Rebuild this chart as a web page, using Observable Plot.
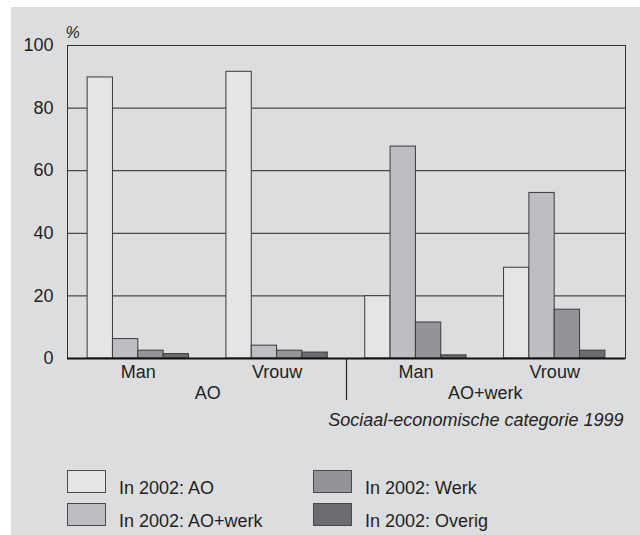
<!DOCTYPE html>
<html>
<head>
<meta charset="utf-8">
<script src="https://cdn.jsdelivr.net/npm/d3@7"></script>
<script src="https://cdn.jsdelivr.net/npm/@observablehq/plot@0.6"></script>
<style>
  body { margin: 0; background: #ffffff; font-family: "Liberation Sans", Arial, Helvetica, sans-serif; color: #231f20; }
  #bg { position: absolute; left: 11px; top: 7px; width: 629px; height: 528px; background: #dcdddf; }
  #chart { position: absolute; left: 0; top: 0; }
  #legend { position: absolute; left: 67px; top: 470px; display: grid; grid-template-columns: 246px auto; grid-template-rows: 33px 33px; grid-auto-flow: column; }
  .item { display: flex; align-items: flex-start; }
  .sw { width: 39px; height: 23px; box-sizing: border-box; border: 1px solid #4a4a4a; }
  .lab { margin-left: 13px; margin-top: 9px; font-size: 18px; line-height: 18px; white-space: nowrap; }
</style>
</head>
<body>
<div id="bg"></div>
<div id="chart"></div>
<div id="legend"></div>
<script>
// Groups (socio-economic category 1999 × sex)
const groups = ["AO|Man", "AO|Vrouw", "AO+werk|Man", "AO+werk|Vrouw"];
const sexes = ["Man", "Vrouw", "Man", "Vrouw"];
const categoryLabels = ["AO", "AO+werk"];
const series = ["In 2002: AO", "In 2002: AO+werk", "In 2002: Werk", "In 2002: Overig"];
// Values per series, one per group (%)
const valuesAO = [89.8, 91.6, 19.9, 29.0];
const valuesAOwerk = [6.2, 4.1, 67.7, 52.9];
const valuesWerk = [2.5, 2.5, 11.5, 15.6];
const valuesOverig = [1.4, 1.9, 1.0, 2.5];
const yTicks = [0, 20, 40, 60, 80, 100];
const colors = ["#e4e5e7", "#bdbec1", "#939497", "#6b6c6f"];
const caption = "Sociaal-economische categorie 1999";

const seriesValues = [valuesAO, valuesAOwerk, valuesWerk, valuesOverig];

const width = 640, height = 440;
const marginLeft = 67, marginRight = 15, marginTop = 45, marginBottom = 82;
const paddingInner = 0.27, paddingOuter = 0.145;
const plotW = width - marginLeft - marginRight;
const step = plotW / (groups.length - paddingInner + 2 * paddingOuter);
const bandwidth = step * (1 - paddingInner);
const seg = bandwidth / series.length;

const barMarks = seriesValues.map((vals, i) =>
  Plot.barY(groups.map((g, j) => ({group: g, value: vals[j]})), {
    x: "group", y: "value",
    fill: colors[i], stroke: "#3a3a3a", strokeWidth: 1,
    insetLeft: i * seg, insetRight: (series.length - 1 - i) * seg
  })
);

const catData = [
  {group: groups[1], label: categoryLabels[0]},
  {group: groups[3], label: categoryLabels[1]}
];

const chart = Plot.plot({
  width, height, marginLeft, marginRight, marginTop, marginBottom,
  style: {fontFamily: '"Liberation Sans", Arial, Helvetica, sans-serif', color: "#231f20", background: "transparent", overflow: "visible"},
  x: {domain: groups, type: "band", paddingInner, paddingOuter, round: false, axis: null},
  y: {domain: [0, 100], axis: null},
  marks: [
    Plot.ruleY(yTicks.filter(t => t > 0 && t < 100), {stroke: "#4a4a4a", strokeWidth: 1.3}),
    ...barMarks,
    Plot.frame({stroke: "#333"}),
    Plot.ruleY([0], {stroke: "#111", strokeWidth: 2}),
    Plot.axisY({ticks: yTicks, tickSize: 0, tickPadding: 14, fontSize: 18, label: null}),
    Plot.text(groups, {x: d => d, text: (d, i) => sexes[i], frameAnchor: "bottom", dy: 19, fontSize: 18, fill: "#231f20"}),
    Plot.text(catData, {x: "group", text: "label", frameAnchor: "bottom", dx: -step / 2, dy: 40, fontSize: 18, fill: "#231f20"}),
    Plot.ruleX([groups[1]], {x: d => d, y1: 0, y2: 0, dx: step / 2, insetBottom: -42, stroke: "#222", strokeWidth: 1.2}),
    Plot.text([caption], {text: d => d, frameAnchor: "bottom-right", textAnchor: "end", dx: -2, dy: 67, fontSize: 18, fontStyle: "italic", fill: "#231f20"}),
    Plot.text(["%"], {text: d => d, frameAnchor: "top-left", textAnchor: "start", dx: -2, dy: -19, fontSize: 16, fontStyle: "italic", fill: "#231f20"})
  ]
});
document.getElementById("chart").appendChild(chart);

const legend = document.getElementById("legend");
series.forEach((s, i) => {
  const item = document.createElement("div");
  item.className = "item";
  const sw = document.createElement("div");
  sw.className = "sw";
  sw.style.background = colors[i];
  const lab = document.createElement("span");
  lab.className = "lab";
  lab.textContent = s;
  item.appendChild(sw);
  item.appendChild(lab);
  legend.appendChild(item);
});
</script>
</body>
</html>
